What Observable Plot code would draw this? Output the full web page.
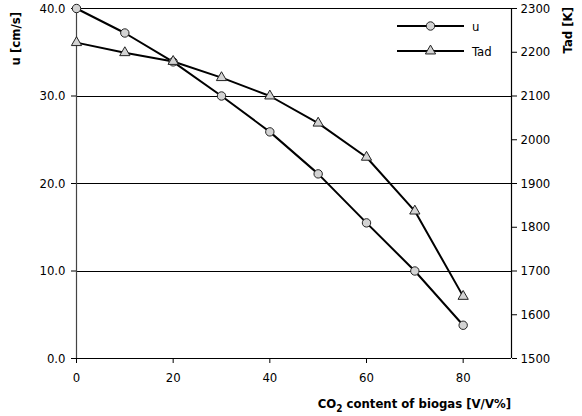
<!DOCTYPE html>
<html><head><meta charset="utf-8">
<script src="https://cdn.jsdelivr.net/npm/d3@7"></script>
<script src="https://cdn.jsdelivr.net/npm/@observablehq/plot@0.6"></script>
<style>
body{margin:0;background:#fff}
#chart svg{font-family:"DejaVu Sans Condensed","DejaVu Sans",sans-serif;font-stretch:condensed}
#chart svg .lbl{font-weight:bold}
</style>
</head><body><div id="chart"></div>
<script>
const co2 = [0, 10, 20, 30, 40, 50, 60, 70, 80];
const uVals = [40.0, 37.2, 33.9, 30.0, 25.9, 21.1, 15.5, 10.0, 3.8];
const tadVals = [2222, 2199, 2179, 2142, 2100, 2038, 1960, 1837, 1642];
const xTicks = [0, 20, 40, 60, 80];
const uTicks = [0, 10, 20, 30, 40];
const tTicks = [1500, 1600, 1700, 1800, 1900, 2000, 2100, 2200, 2300];
const gridU = [10, 20, 30, 40];
const seriesNames = ["u", "Tad"];
const xLabel = ["CO", "2", " content of biogas [V/V%]"];
const uLabel = "u [cm/s]";
const tLabel = "Tad [K]";

// map Tad onto the u-scale (1500..2300 K -> 0..40)
const T0 = 1500, Tk = 20;
const toU = t => (t - T0) / Tk;
const uData = co2.map((x, i) => ({x, v: uVals[i]}));
const tData = co2.map((x, i) => ({x, v: toU(tadVals[i])}));

const font = 13;
const chart = Plot.plot({
  width: 582, height: 416,
  marginLeft: 76, marginRight: 71, marginTop: 8, marginBottom: 58,
  style: {fontSize: font + "px", color: "#000", background: "#fff"},
  x: {domain: [0, 90]},
  y: {domain: [0, 40]},
  marks: [
    Plot.ruleY(gridU, {stroke: "#000", strokeWidth: 1, strokeOpacity: 1, shapeRendering: "crispEdges"}),
    Plot.ruleX([0], {stroke: "#444", strokeWidth: 1.2}),
    Plot.ruleX([90], {stroke: "#000", strokeWidth: 1.2}),
    Plot.ruleY([0], {stroke: "#000", strokeWidth: 1.2}),
    Plot.axisY({ticks: uTicks, tickFormat: d => d.toFixed(1), tickSize: 5, tickPadding: 6, label: null, fontSize: font}),
    Plot.axisY({anchor: "right", ticks: tTicks.map(toU), tickFormat: d => String(Math.round(d * Tk + T0)), tickSize: 5, tickPadding: 4, label: null, fontSize: font}),
    Plot.axisX({ticks: xTicks, tickSize: 5, tickPadding: 9, label: null, fontSize: font}),
    Plot.line(uData, {x: "x", y: "v", stroke: "#000", strokeWidth: 2}),
    Plot.line(tData, {x: "x", y: "v", stroke: "#000", strokeWidth: 2}),
    Plot.dot(uData, {x: "x", y: "v", r: 4.2, fill: "#d3d3d3", stroke: "#222", strokeWidth: 1}),
    Plot.dot(tData, {x: "x", y: "v", r: 3.8, symbol: "triangle", fill: "#d3d3d3", stroke: "#222", strokeWidth: 1})
  ]
});
document.getElementById("chart").appendChild(chart);

const svg = d3.select(chart);
const xs = chart.scale("x"), ys = chart.scale("y");
const pLeft = xs.apply(0), pRight = xs.apply(90), pTop = ys.apply(40), pBottom = ys.apply(0);

// x label with subscript
const xl = svg.append("text").attr("class", "lbl")
  .attr("x", pRight).attr("y", pBottom + 50)
  .attr("text-anchor", "end").attr("font-size", 13);
xl.append("tspan").text(xLabel[0]);
xl.append("tspan").attr("dy", 4).attr("font-size", 10).text(xLabel[1]);
xl.append("tspan").attr("dy", -4).text(xLabel[2]);

svg.append("text").attr("class", "lbl")
  .attr("transform", `translate(${pLeft - 56},${pTop + 4}) rotate(-90)`)
  .attr("text-anchor", "end").attr("font-size", 13)
  .text(uLabel);
svg.append("text").attr("class", "lbl")
  .attr("transform", `translate(${pRight + 61},${pTop - 1}) rotate(-90)`)
  .attr("text-anchor", "end").attr("font-size", 13)
  .text(tLabel);

// legend
const lg = svg.append("g");
seriesNames.forEach((name, i) => {
  const y = pTop + 18 + i * 25;
  const x0 = pRight - 114, x1 = pRight - 47, xm = (x0 + x1) / 2;
  lg.append("line").attr("x1", x0).attr("x2", x1).attr("y1", y).attr("y2", y).attr("stroke", "#000").attr("stroke-width", 2);
  if (i === 0) {
    lg.append("circle").attr("cx", xm).attr("cy", y).attr("r", 4.2).attr("fill", "#d3d3d3").attr("stroke", "#222");
  } else {
    lg.append("path").attr("transform", `translate(${xm},${y})`)
      .attr("d", d3.symbol(d3.symbolTriangle, Math.PI * 3.8 * 3.8)()).attr("fill", "#d3d3d3").attr("stroke", "#222");
  }
  lg.append("text").attr("x", x1 + 8).attr("y", y).attr("dy", "0.35em").attr("text-anchor", "start").attr("font-size", font).text(name);
});
</script>
</body></html>
